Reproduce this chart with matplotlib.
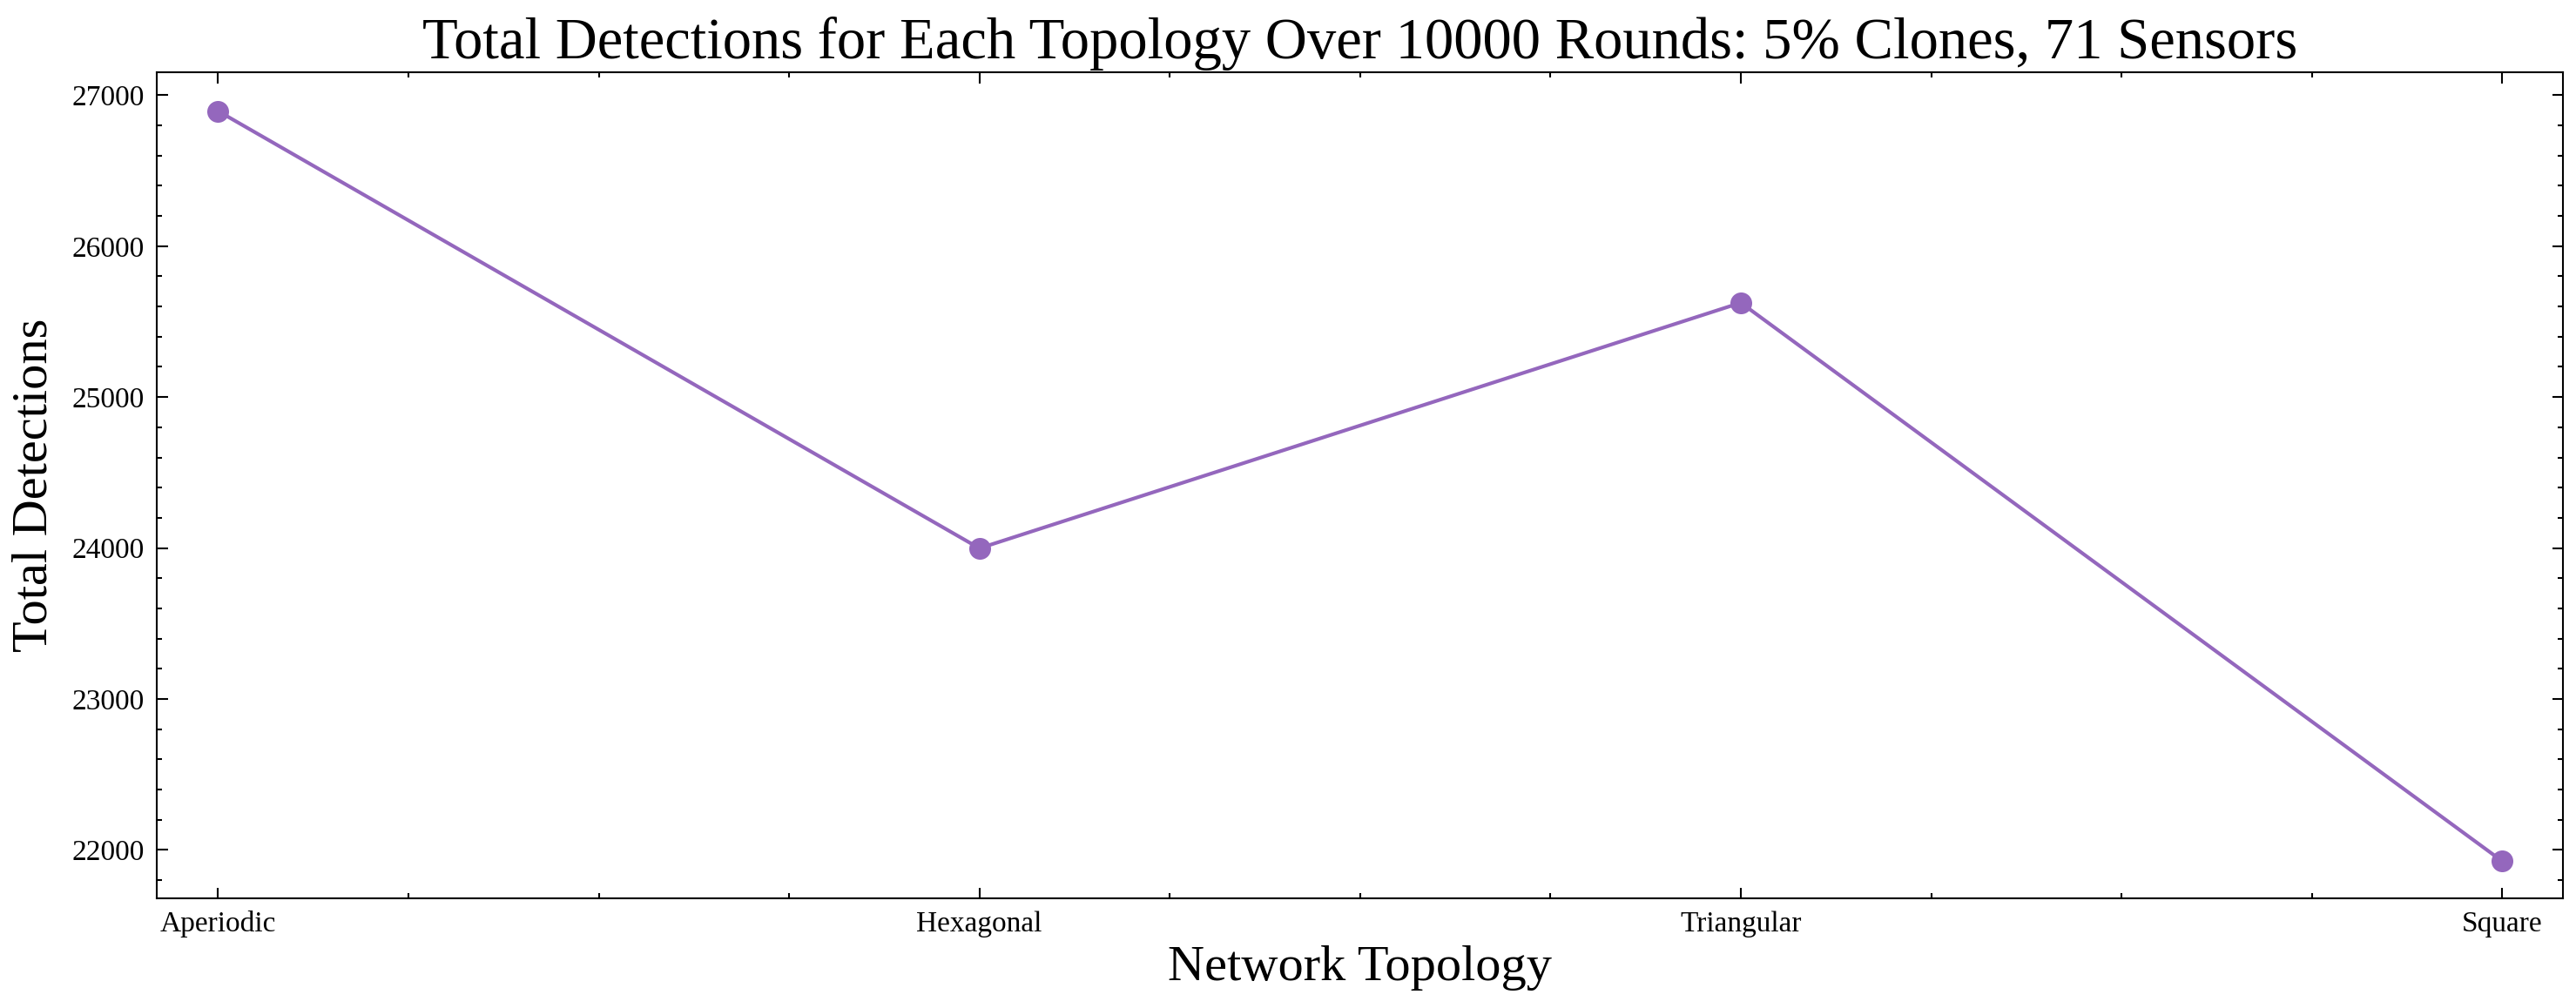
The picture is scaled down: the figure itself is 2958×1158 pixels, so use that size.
import matplotlib
matplotlib.use("Agg")
import matplotlib.pyplot as plt
from matplotlib.ticker import AutoMinorLocator, MultipleLocator

topologies = ["Aperiodic", "Hexagonal", "Triangular", "Square"]
detections = [26895, 23998, 25625, 21925]

plt.rcParams['font.family'] = ['Liberation Serif', 'DejaVu Serif']
plt.rcParams['mathtext.fontset'] = 'stix'

fig = plt.figure(figsize=(9.86, 3.86), dpi=300)
ax = fig.add_axes([0.061, 0.109, 0.934, 0.819])
x = list(range(len(topologies)))
ax.plot(x, detections, color='#9467bd', marker='o', markersize=5, linewidth=1)
ax.set_xticks(x)
ax.set_xticklabels(topologies, fontsize=8)
ax.set_xlim(-0.08, 3.08)
ax.set_ylim(21680, 27150)
ax.yaxis.set_major_locator(MultipleLocator(1000))
ax.yaxis.set_minor_locator(AutoMinorLocator(5))
ax.xaxis.set_minor_locator(AutoMinorLocator(4))
ax.tick_params(which='both', direction='in', top=True, right=True, labelsize=8)
ax.tick_params(which='major', length=3, width=0.5)
ax.tick_params(which='minor', length=1.5, width=0.5)
for s in ax.spines.values():
    s.set_linewidth(0.5)
ax.set_xlabel("Network Topology", fontsize=14, labelpad=2)
ax.set_ylabel("Total Detections", fontsize=14, labelpad=4)
ax.set_title("Total Detections for Each Topology Over 10000 Rounds: 5% Clones, 71 Sensors", fontsize=16, pad=4)
fig.savefig("out.png", dpi=300)
